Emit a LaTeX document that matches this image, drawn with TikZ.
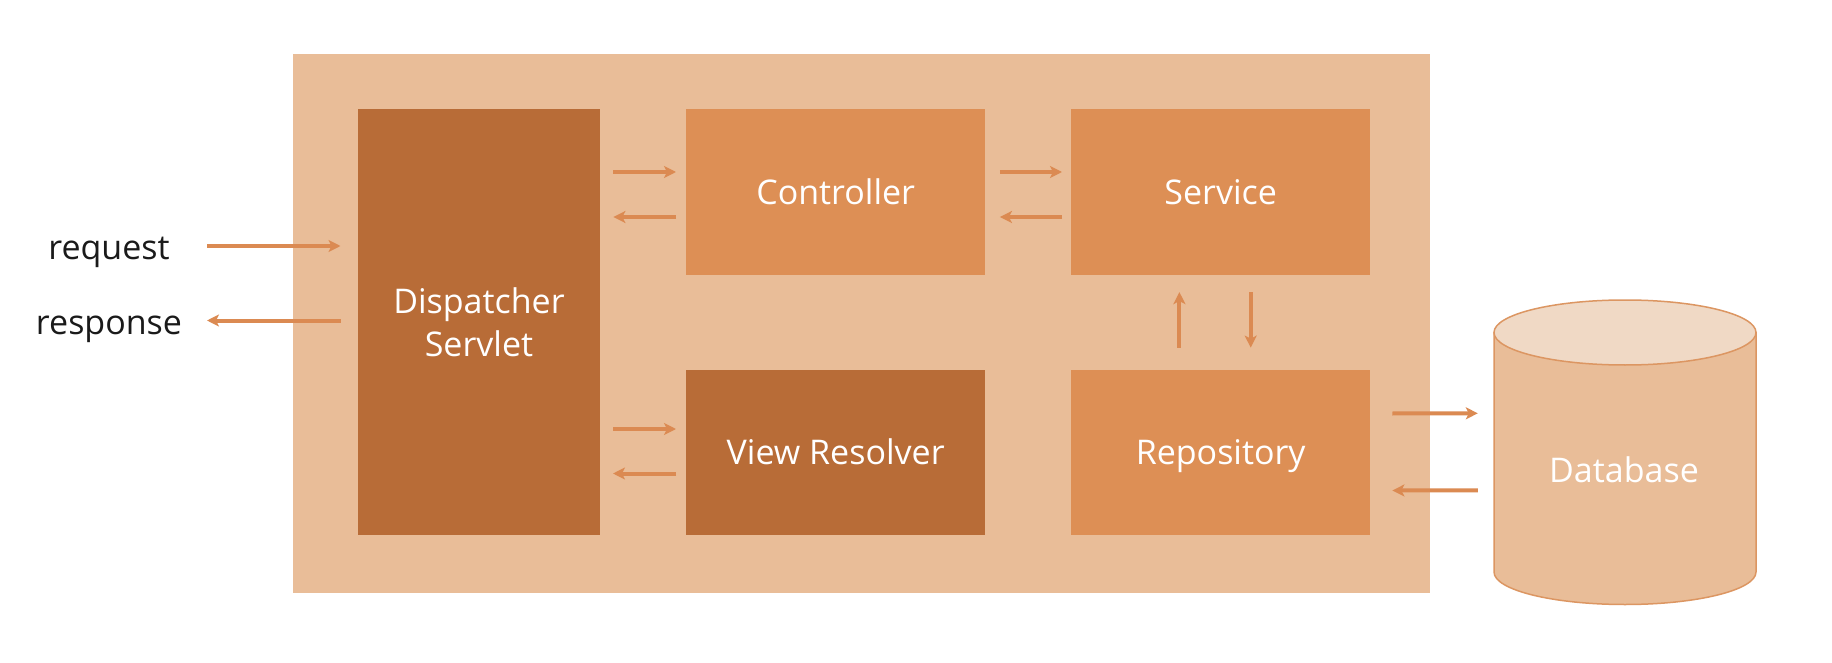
\documentclass[tikz,border=0pt]{standalone}
\usepackage{fontspec}
\setmainfont{Open Sans}
\usetikzlibrary{arrows.meta}
\definecolor{outercol}{HTML}{E9BD98}
\definecolor{darkcol}{HTML}{B86C37}
\definecolor{midcol}{HTML}{DD8F55}
\definecolor{arrcol}{HTML}{DB8A52}
\definecolor{dbtop}{HTML}{F0D9C5}
\definecolor{dbline}{HTML}{DC9662}
\definecolor{txtcol}{HTML}{1A1A1A}
\begin{document}
\begin{tikzpicture}[x=1pt,y=-1pt,
  blk/.style={inner sep=0pt, text=white, anchor=north west, align=center,
    font=\fontsize{34}{43}\selectfont},
  oneline/.style={text height=24.5pt, text depth=0pt},
  lbl/.style={inner sep=0pt, text=txtcol, anchor=base, font=\fontsize{34}{43}\selectfont},
  flow/.style={draw=arrcol, line width=4pt, -{Stealth[length=12pt,width=12pt,inset=3pt]}}
  ]
\useasboundingbox (0,0) rectangle (1832,663);
\fill[white] (0,0) rectangle (1832,663);
% outer container
\node[fill=outercol, inner sep=0pt, anchor=north west, minimum width=1137pt, minimum height=539pt] (outerbox) at (293,54) {};
% blocks
\node[blk, fill=darkcol, minimum width=242.5pt, minimum height=426pt] (disp) at (357.5,109) {Dispatcher\\Servlet};
\node[blk, oneline, fill=midcol, minimum width=299pt, minimum height=166pt] (ctrl) at (686,109) {Controller};
\node[blk, oneline, fill=darkcol, minimum width=299pt, minimum height=165pt] (vr) at (686,370) {View Resolver};
\node[blk, oneline, fill=midcol, minimum width=299pt, minimum height=166pt] (svc) at (1071,109) {Service};
\node[blk, oneline, fill=midcol, minimum width=299pt, minimum height=165pt] (repo) at (1071,370) {Repository};
% database
\node[inner sep=0pt, minimum width=262pt, minimum height=304pt] (db) at (1625,452.5) {};
\filldraw[fill=outercol, draw=dbline, line width=1.5pt]
  (1494,332.5) -- (1494,572) arc[start angle=180, end angle=0, x radius=131, y radius=32.5]
  -- (1756,332.5) -- cycle;
\filldraw[fill=dbtop, draw=dbline, line width=1.5pt] (1625,332.5) ellipse [x radius=131, y radius=32.5];
\node[inner sep=0pt, text=white, font=\fontsize{34}{43}\selectfont] (dblabel) at (1624,470) {Database};
% request / response
\node[lbl] (req) at (109,259) {request};
\node[lbl] (resp) at (109,334) {response};
\coordinate (reqtail) at (207,246);
\coordinate (resphead) at (207,320.5);
\draw[flow] (reqtail) -- ([shift={(-17,137)}]disp.north west);
\draw[flow] ([shift={(-17,211.5)}]disp.north west) -- (resphead);
% dispatcher <-> controller
\draw[flow] ([shift={(13,63)}]disp.north east) -- ([shift={(-10,63)}]ctrl.north west);
\draw[flow] ([shift={(-10,108)}]ctrl.north west) -- ([shift={(13,108)}]disp.north east);
% dispatcher <-> view resolver
\draw[flow] ([shift={(-73,59)}]vr.north west) -- ([shift={(-10,59)}]vr.north west);
\draw[flow] ([shift={(-10,103.5)}]vr.north west) -- ([shift={(-73,103.5)}]vr.north west);
% controller <-> service
\draw[flow] ([shift={(14.5,63)}]ctrl.north east) -- ([shift={(-9,63)}]svc.north west);
\draw[flow] ([shift={(-9,108)}]svc.north west) -- ([shift={(14.5,108)}]ctrl.north east);
% service <-> repository
\draw[flow] ([shift={(108.4,-22.4)}]repo.north west) -- ([shift={(108.4,16.7)}]svc.south west);
\draw[flow] ([shift={(179.7,16.7)}]svc.south west) -- ([shift={(179.7,-22.4)}]repo.north west);
% repository <-> database
\draw[flow] ([shift={(22,43.5)}]repo.north east) -- ([shift={(-16,113)}]db.north west);
\draw[flow] ([shift={(-16,190)}]db.north west) -- ([shift={(22,120.5)}]repo.north east);
\end{tikzpicture}
\end{document}
